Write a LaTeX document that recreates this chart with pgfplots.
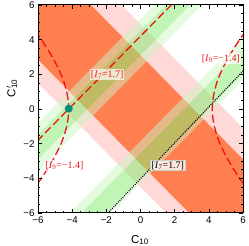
\documentclass[border=0pt]{standalone}
\usepackage{fontspec}
\setmainfont{Liberation Sans}
\newfontfamily\timesfont{Liberation Serif}
\usepackage{pgfplots}
\pgfplotsset{compat=1.18}
\definecolor{orangeC}{RGB}{255,127,80}
\definecolor{pinkC}{RGB}{255,216,216}
\definecolor{lgreen}{RGB}{203,247,193}
\definecolor{dgreen}{RGB}{140,237,120}
\definecolor{dotC}{RGB}{0,140,120}
\definecolor{redC}{RGB}{240,20,20}
\begin{document}
\begin{tikzpicture}
\useasboundingbox (-38bp,-33bp) rectangle (211bp,213bp);
\begin{axis}[at={(0,0)}, anchor=south west, scale only axis,
  width=205bp, height=208bp,
  xmin=-6, xmax=6, ymin=-6, ymax=6,
  clip mode=individual,
  xtick={-6,-4,-2,0,2,4,6}, ytick={-6,-4,-2,0,2,4,6},
  xticklabels={−6,−4,−2,0,2,4,6}, yticklabels={−6,−4,−2,0,2,4,6},
  minor tick num=3, tick align=inside,
  major tick length=4bp, minor tick length=2bp,
  axis line style={line width=1bp},
  every tick/.style={black, line width=0.6bp},
  tick label style={font=\fontsize{9.8}{10}\selectfont},
  axis on top,
]
% pink band
\addplot[fill=pinkC, draw=none] coordinates {(-20,15.5) (15.5,-20) (24.9,-20) (-20,24.9)};
% orange band
\addplot[fill=orangeC, draw=none] coordinates {(-20,16.85) (16.85,-20) (23.1,-20) (-20,23.1)};
% upper green band
\addplot[fill=lgreen, fill opacity=0.5, draw=none] coordinates {(-20,-17.6) (20,22.4) (20,23.1) (-20,-16.9)};
\addplot[fill=lgreen, fill opacity=0.5, draw=none] coordinates {(-20,-15.5) (20,24.5) (20,25.2) (-20,-14.8)};
\addplot[fill=dgreen, fill opacity=0.55, draw=none] coordinates {(-20,-16.9) (20,23.1) (20,24.5) (-20,-15.5)};
% lower green band
\addplot[fill=lgreen, fill opacity=0.5, draw=none] coordinates {(-20,-24.3) (20,15.7) (20,16.05) (-20,-23.95)};
\addplot[fill=lgreen, fill opacity=0.5, draw=none] coordinates {(-20,-22.55) (20,17.45) (20,18.15) (-20,-21.85)};
\addplot[fill=dgreen, fill opacity=0.55, draw=none] coordinates {(-20,-23.95) (20,16.05) (20,17.45) (-20,-22.55)};
% I7 lines
\addplot[redC, line width=1.3bp, dash pattern=on 8bp off 3.5bp] coordinates {(-7,-2.8) (2.8,7)};
\addplot[black, line width=1.1bp, dash pattern=on 1bp off 1.2bp] coordinates {(-2.2,-6.3) (6.3,2.5)};
% I9 curves
\addplot[redC, line width=1.3bp, dash pattern=on 8bp off 3.5bp] coordinates {
(-6.16,4.5) (-5.80,4.0) (-5.47,3.5) (-5.16,3.0) (-4.89,2.5) (-4.65,2.0) (-4.46,1.5) (-4.32,1.0) (-4.23,0.5) (-4.20,0)
(-4.23,-0.5) (-4.32,-1.0) (-4.46,-1.5) (-4.65,-2.0) (-4.89,-2.5) (-5.16,-3.0) (-5.47,-3.5) (-5.80,-4.0) (-6.16,-4.5)};
\addplot[redC, line width=1.3bp, dash pattern=on 8bp off 3.5bp] coordinates {
(6.16,4.5) (5.80,4.0) (5.47,3.5) (5.16,3.0) (4.89,2.5) (4.65,2.0) (4.46,1.5) (4.32,1.0) (4.23,0.5) (4.20,0)
(4.23,-0.5) (4.32,-1.0) (4.46,-1.5) (4.65,-2.0) (4.89,-2.5) (5.16,-3.0) (5.47,-3.5) (5.80,-4.0) (6.16,-4.5)};
% point
\addplot[only marks, mark=*, mark size=3.7bp, color=dotC] coordinates {(-4.2,0.02)};
% labels
\node[fill=white, fill opacity=0.7, text opacity=1, text=redC, inner sep=1pt, font=\timesfont\fontsize{10}{11}\selectfont] at (axis cs:-1.95,2.0) {[\textit{I}\textsubscript{7}=1.7]};
\node[fill=white, fill opacity=0.7, text opacity=1, text=redC, inner sep=1pt, font=\timesfont\fontsize{10}{11}\selectfont] at (axis cs:4.7,2.9) {[\textit{I}\textsubscript{9}=−1.4]};
\node[fill=white, fill opacity=0.7, text opacity=1, text=redC, inner sep=1pt, font=\timesfont\fontsize{10}{11}\selectfont] at (axis cs:-4.45,-3.25) {[\textit{I}\textsubscript{9}=−1.4]};
\node[fill=white, fill opacity=0.8, draw=gray!40, text opacity=1, text=black, inner sep=1pt, font=\timesfont\fontsize{10}{11}\selectfont] at (axis cs:1.6,-3.25) {[\textit{I}\textsubscript{7}=1.7]};
% axis labels
\node[font=\fontsize{11.5}{12}\selectfont] at (axis description cs:0.4976,-0.13) {C\textsubscript{10}};
\node[font=\fontsize{11.5}{12}\selectfont, rotate=90] at (axis description cs:-0.127,0.6) {C\rlap{$^{\prime}$}\textsubscript{10}};
\end{axis}
\end{tikzpicture}
\end{document}
